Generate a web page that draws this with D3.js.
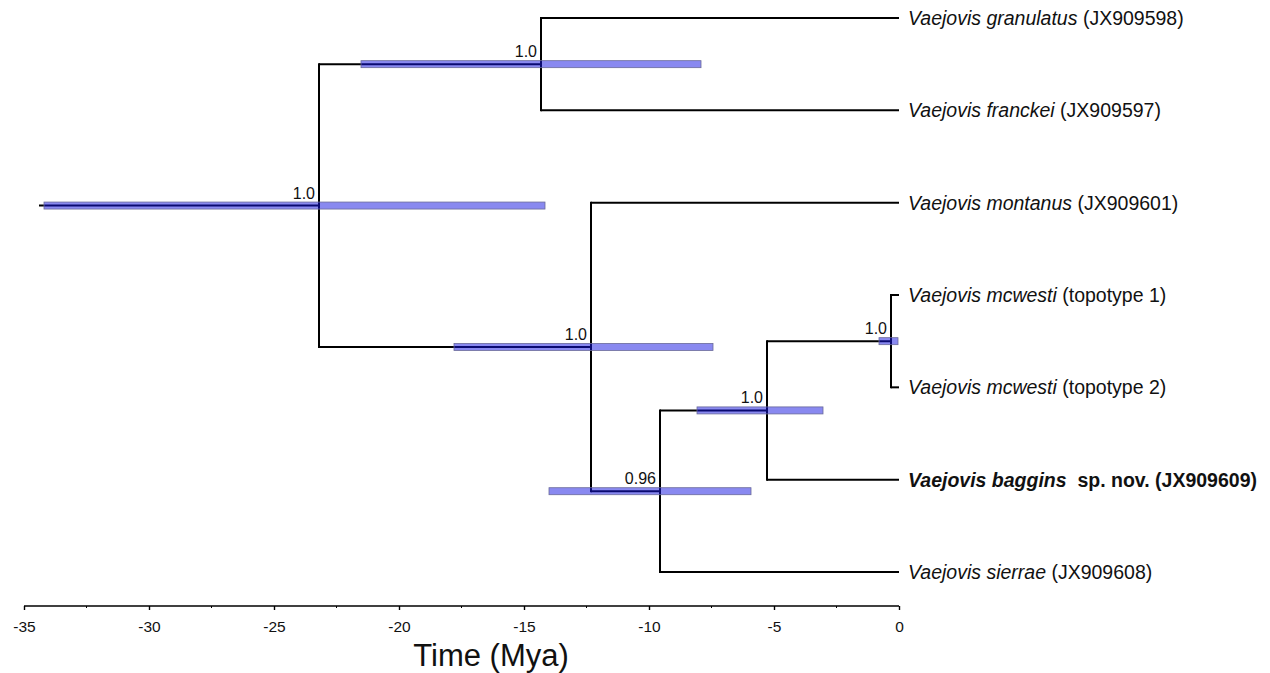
<!DOCTYPE html>
<html>
<head>
<meta charset="utf-8">
<script src="https://cdn.jsdelivr.net/npm/d3@7"></script>
<style>
  body { margin: 0; background: #fff; }
  svg { display: block; font-family: "Liberation Sans", Arial, sans-serif; }
</style>
</head>
<body>
<div id="chart"></div>
<script>
// Tips, top to bottom
const tipIds = ["t0", "t1", "t2", "t3", "t4", "t5", "t6"];
const tipTaxon = ["Vaejovis granulatus", "Vaejovis franckei", "Vaejovis montanus", "Vaejovis mcwesti",
                  "Vaejovis mcwesti", "Vaejovis baggins", "Vaejovis sierrae"];
const tipNote = ["(JX909598)", "(JX909597)", "(JX909601)", "(topotype 1)",
                 "(topotype 2)", " sp. nov. (JX909609)", "(JX909608)"];
const tipBold = [false, false, false, false, false, true, false];
const tipAge = [0, 0, 0, 0, 0, 0, 0];

// Internal nodes (ages in Mya, negative = past)
const nodeIds = ["root", "A", "B", "C", "D", "E"];
const nodeAge = [-23.2, -14.32, -12.32, -9.56, -5.28, -0.32];
const nodeChildren = [["A", "B"], ["t0", "t1"], ["t2", "C"], ["D", "t6"], ["E", "t5"], ["t3", "t4"]];
const nodeSupport = ["1.0", "1.0", "1.0", "0.96", "1.0", "1.0"];
const hpdLow = [-34.2, -21.52, -17.8, -14.0, -8.08, -0.8];
const hpdHigh = [-14.16, -7.92, -7.44, -5.92, -3.04, -0.04];
const rootStemAge = -34.4;

const axisTicks = [-35, -30, -25, -20, -15, -10, -5, 0];
const minorTicks = [-32.5, -27.5, -22.5, -17.5, -12.5, -7.5, -2.5];

const width = 1270, height = 673;
const svg = d3.select("#chart").append("svg")
    .attr("width", width)
    .attr("height", height);

const x = d3.scaleLinear().domain([-35, 0]).range([24, 899]);
const y = d3.scaleLinear().domain([0, tipIds.length - 1]).range([18, 572]);

// Build node lookup
const nodes = {};
tipIds.forEach((id, i) => {
    nodes[id] = { id, age: tipAge[i], y: y(i), tip: i };
});
// internal node y = mean of its children
function place(id) {
    if (nodes[id]) return nodes[id];
    const k = nodeIds.indexOf(id);
    const kids = nodeChildren[k].map(place);
    nodes[id] = { id, age: nodeAge[k], y: d3.mean(kids, d => d.y), kids, k };
    return nodes[id];
}
place("root");

const tree = svg.append("g");

// branches
const lineStyle = sel => sel.attr("stroke", "#000").attr("stroke-width", 2).attr("fill", "none");

tree.append("line").call(lineStyle)
    .attr("x1", x(rootStemAge)).attr("x2", x(nodes.root.age))
    .attr("y1", nodes.root.y).attr("y2", nodes.root.y);

nodeIds.forEach(id => {
    const n = nodes[id];
    const ys = n.kids.map(c => c.y);
    tree.append("line").call(lineStyle)
        .attr("x1", x(n.age)).attr("x2", x(n.age))
        .attr("y1", d3.min(ys) - 1).attr("y2", d3.max(ys) + 1);
    n.kids.forEach(c => {
        tree.append("line").call(lineStyle)
            .attr("x1", x(n.age)).attr("x2", x(c.age))
            .attr("y1", c.y).attr("y2", c.y);
    });
});

// HPD bars
const barH = 7;
tree.selectAll("rect.hpd")
    .data(nodeIds)
    .enter()
    .append("rect")
    .attr("class", "hpd")
    .attr("x", (d, i) => x(hpdLow[i]))
    .attr("width", (d, i) => x(hpdHigh[i]) - x(hpdLow[i]))
    .attr("y", d => nodes[d].y - barH / 2)
    .attr("height", barH)
    .attr("fill", "rgb(20,20,225)")
    .attr("fill-opacity", 0.5)
    .attr("stroke", "#6a6a9a")
    .attr("stroke-width", 0.8);

// support values
tree.selectAll("text.support")
    .data(nodeIds)
    .enter()
    .append("text")
    .attr("class", "support")
    .attr("x", d => x(nodes[d].age) - 4)
    .attr("y", d => nodes[d].y - 7)
    .attr("text-anchor", "end")
    .attr("font-size", 16)
    .attr("fill", "#111")
    .text((d, i) => nodeSupport[i]);

// tip labels
const labels = tree.selectAll("text.tip")
    .data(tipIds)
    .enter()
    .append("text")
    .attr("class", "tip")
    .attr("x", d => x(nodes[d].age) + 9)
    .attr("y", d => nodes[d].y)
    .attr("dy", "0.36em")
    .attr("font-size", 19.5)
    .attr("fill", "#111")
    .attr("font-weight", (d, i) => tipBold[i] ? "bold" : "normal");

labels.append("tspan").attr("font-style", "italic").text((d, i) => tipTaxon[i]);
labels.append("tspan").style("white-space", "pre").text((d, i) => " " + tipNote[i]);

// axis (plain hyphen for negatives, as in the figure)
const axisY = 606;
const axisG = svg.append("g")
    .attr("transform", `translate(0,${axisY})`)
    .call(d3.axisBottom(x).tickValues(axisTicks).tickSize(4).tickPadding(11)
        .tickFormat(d => String(d)));
axisG.select(".domain").attr("stroke-width", 1.6).attr("d", `M${x(-35)},0H${x(0)}`);
axisG.selectAll(".tick line").attr("stroke-width", 1.4);
axisG.selectAll(".tick text")
    .style("font-size", "15.5px")
    .style("font-family", "'Liberation Sans', Arial, sans-serif")
    .attr("fill", "#111");

axisG.selectAll("line.minor")
    .data(minorTicks)
    .enter()
    .append("line")
    .attr("class", "minor")
    .attr("x1", d => x(d)).attr("x2", d => x(d))
    .attr("y1", 0).attr("y2", 2)
    .attr("stroke", "#000").attr("stroke-width", 1);

svg.append("text")
    .attr("x", 491)
    .attr("y", 666)
    .attr("text-anchor", "middle")
    .attr("font-size", 31)
    .attr("fill", "#111")
    .text("Time (Mya)");
</script>
</body>
</html>
